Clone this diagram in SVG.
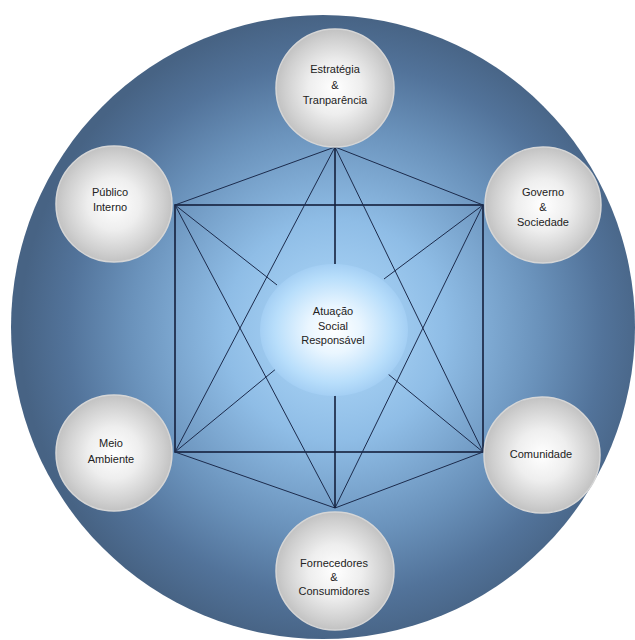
<svg xmlns="http://www.w3.org/2000/svg" width="635" height="640" viewBox="0 0 635 640">
  <defs>
    <radialGradient id="bgGrad" cx="335" cy="330" r="315" gradientUnits="userSpaceOnUse">
      <stop offset="0" stop-color="#b2dbfb"/>
      <stop offset="0.35" stop-color="#8fbde6"/>
      <stop offset="0.65" stop-color="#6a92bb"/>
      <stop offset="0.85" stop-color="#52739a"/>
      <stop offset="1" stop-color="#476384"/>
    </radialGradient>
    <radialGradient id="coreGrad" cx="0.5" cy="0.5" r="0.5">
      <stop offset="0" stop-color="#ffffff"/>
      <stop offset="0.35" stop-color="#eaf6ff"/>
      <stop offset="0.8" stop-color="#b8defb"/>
      <stop offset="1" stop-color="#a4cff4"/>
    </radialGradient>
    <radialGradient id="nodeGrad" cx="0.5" cy="0.5" r="0.5">
      <stop offset="0" stop-color="#ffffff"/>
      <stop offset="0.45" stop-color="#eeeeee"/>
      <stop offset="0.85" stop-color="#cfcfcf"/>
      <stop offset="1" stop-color="#c2c2c2"/>
    </radialGradient>
  </defs>
  <style>
    .node circle { fill: url(#nodeGrad); stroke: #d6d6d6; stroke-width: 1.5; }
    .node text, .core text { font-family: "Liberation Sans", Arial, sans-serif; font-size: 11px; fill: #222; text-anchor: middle; }
    .edge { stroke: #1c2b4c; stroke-width: 1; fill: none; }
    .frame { stroke: #14203c; stroke-width: 1.6; fill: none; }
  </style>

  <rect width="635" height="640" fill="#ffffff"/>
  <circle id="backdrop" cx="323" cy="327" r="312" fill="url(#bgGrad)"/>

  <g id="connectors">
    <rect class="frame" x="175" y="205" width="308" height="247"/>
    <line class="edge" x1="335" y1="147" x2="175" y2="205"/>
    <line class="edge" x1="335" y1="147" x2="483" y2="205"/>
    <line class="edge" x1="335" y1="147" x2="175" y2="452"/>
    <line class="edge" x1="335" y1="147" x2="483" y2="452"/>
    <line class="frame" x1="335" y1="147" x2="335" y2="264"/>
    <line class="edge" x1="335" y1="508" x2="175" y2="452"/>
    <line class="edge" x1="335" y1="508" x2="483" y2="452"/>
    <line class="edge" x1="335" y1="508" x2="175" y2="205"/>
    <line class="edge" x1="335" y1="508" x2="483" y2="205"/>
    <line class="frame" x1="335" y1="508" x2="335" y2="395"/>
    <line class="edge" x1="175" y1="205" x2="277" y2="285"/>
    <line class="edge" x1="483" y1="205" x2="384" y2="279"/>
    <line class="edge" x1="175" y1="452" x2="277" y2="368"/>
    <line class="edge" x1="483" y1="452" x2="388" y2="374"/>
  </g>

  <g id="core" class="core">
    <ellipse cx="334" cy="330" rx="74" ry="66" fill="url(#coreGrad)"/>
    <text x="333" y="315">Atuação</text>
    <text x="333" y="330">Social</text>
    <text x="333" y="344">Responsável</text>
  </g>

  <g id="estrategia" class="node">
    <circle cx="335" cy="88" r="59"/>
    <text x="335" y="73">Estratégia</text>
    <text x="335" y="89">&amp;</text>
    <text x="335" y="104">Tranparência</text>
  </g>

  <g id="publico" class="node">
    <circle cx="114" cy="204" r="58"/>
    <text x="110" y="196">Público</text>
    <text x="110" y="211">Interno</text>
  </g>

  <g id="governo" class="node">
    <circle cx="543" cy="205" r="58"/>
    <text x="543" y="196">Governo</text>
    <text x="543" y="211">&amp;</text>
    <text x="543" y="226">Sociedade</text>
  </g>

  <g id="meio" class="node">
    <circle cx="114" cy="453" r="58"/>
    <text x="111" y="447">Meio</text>
    <text x="111" y="463">Ambiente</text>
  </g>

  <g id="comunidade" class="node">
    <circle cx="542" cy="455" r="58"/>
    <text x="541" y="458">Comunidade</text>
  </g>

  <g id="fornecedores" class="node">
    <circle cx="335" cy="571" r="59"/>
    <text x="334" y="567">Fornecedores</text>
    <text x="334" y="581">&amp;</text>
    <text x="334" y="595">Consumidores</text>
  </g>
</svg>
